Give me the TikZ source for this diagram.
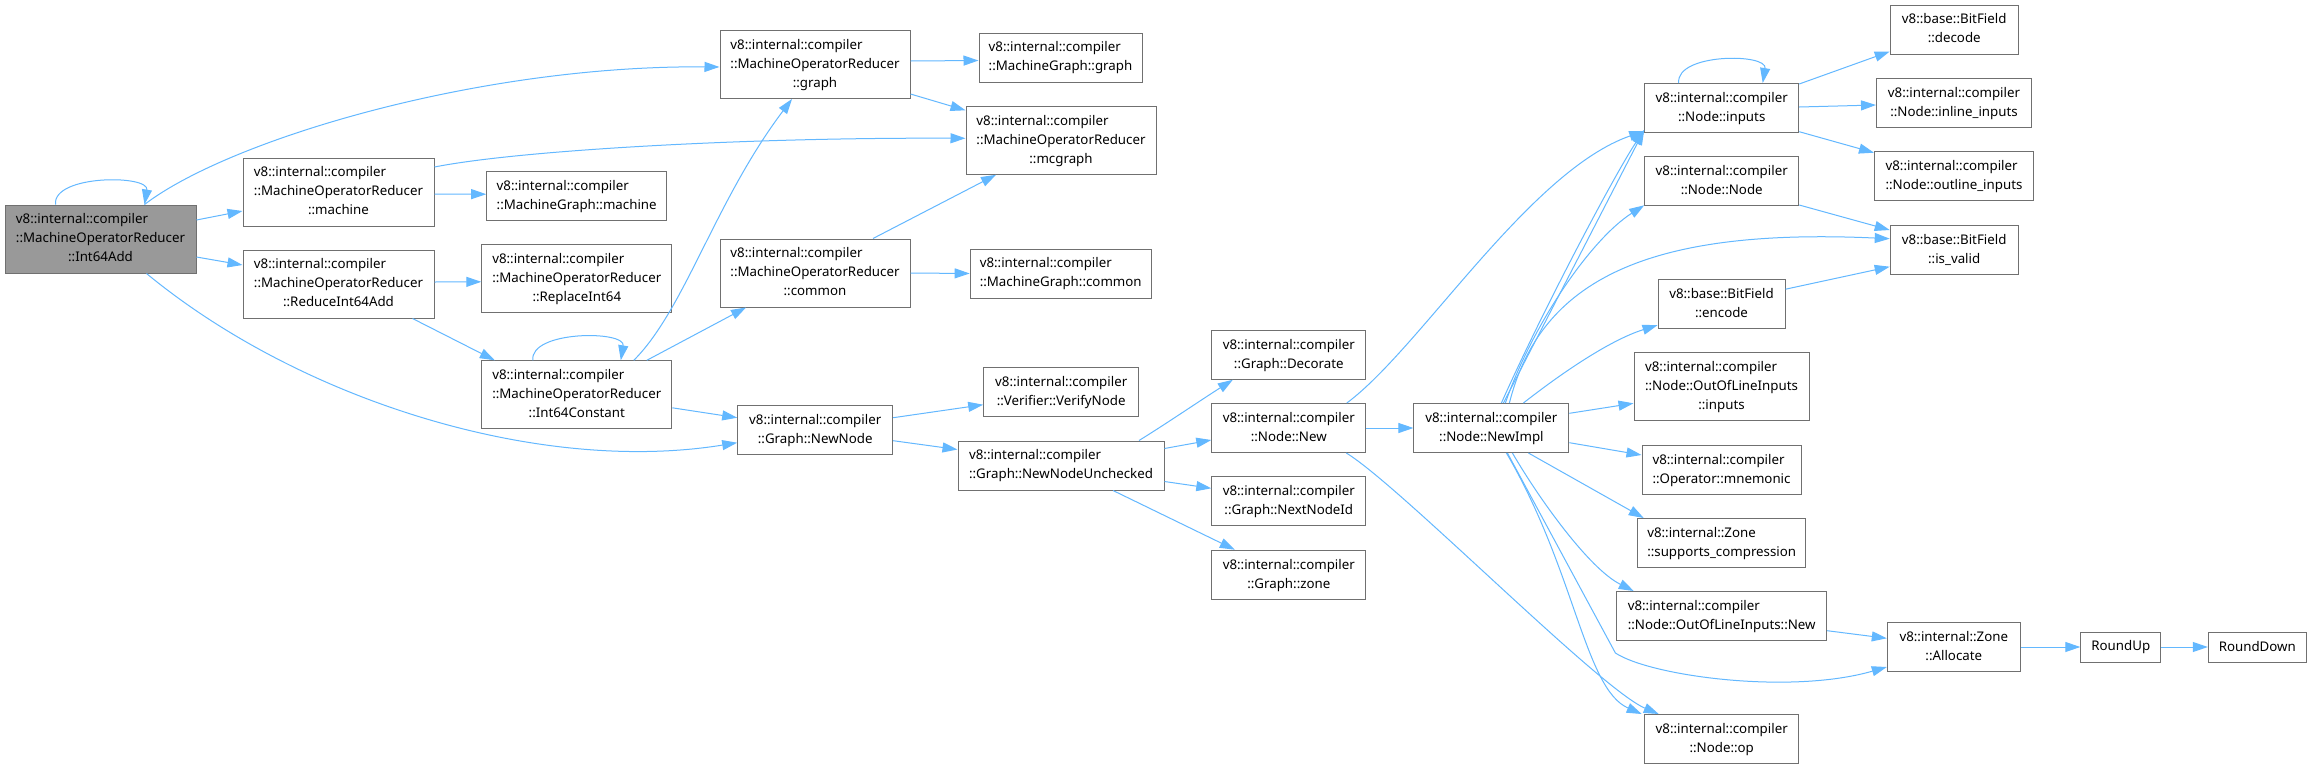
\documentclass[tikz,border=0pt]{standalone}
\usepackage{fontspec}
\setmainfont{Noto Sans}
\usetikzlibrary{arrows.meta}
\definecolor{edgeblue}{RGB}{99,184,255}
\definecolor{boxgray}{RGB}{112,112,112}
\definecolor{rootgray}{RGB}{153,153,153}
\newcommand{\fnlabel}[2]{\begin{tabular}{@{}l@{}}#1\\\multicolumn{1}{@{}c@{}}{#2}\end{tabular}}
\tikzset{
  fnbox/.style={draw=boxgray,line width=1pt,fill=white,inner sep=0pt,minimum height=49pt,font=\fontsize{13.3}{19}\selectfont},
  tall/.style={minimum height=68pt},
  root/.style={fnbox,tall,fill=rootgray},
  call/.style={draw=edgeblue,line width=1pt,-{Triangle[length=15pt,width=10pt]}}
}

\begin{document}
\begin{tikzpicture}[x=1pt,y=-1pt]
  \path[use as bounding box,fill=white] (0,0) rectangle (2311,769);
  \node[root,minimum width=191pt] (int64add) at (100.5,239) {\fnlabel{v8::internal::compiler\\::MachineOperatorReducer}{::Int64Add}};
  \node[fnbox,tall,minimum width=191pt] (machine) at (338.5,192) {\fnlabel{v8::internal::compiler\\::MachineOperatorReducer}{::machine}};
  \node[fnbox,tall,minimum width=191pt] (reduce) at (338.5,284) {\fnlabel{v8::internal::compiler\\::MachineOperatorReducer}{::ReduceInt64Add}};
  \node[fnbox,minimum width=180pt] (mgmachine) at (576.7,196.2) {\fnlabel{v8::internal::compiler}{::MachineGraph::machine}};
  \node[fnbox,tall,minimum width=190pt] (replace) at (576.8,278.8) {\fnlabel{v8::internal::compiler\\::MachineOperatorReducer}{::ReplaceInt64}};
  \node[fnbox,tall,minimum width=190pt] (int64const) at (576.8,394.8) {\fnlabel{v8::internal::compiler\\::MachineOperatorReducer}{::Int64Constant}};
  \node[fnbox,tall,minimum width=190pt] (morgraph) at (815,64.5) {\fnlabel{v8::internal::compiler\\::MachineOperatorReducer}{::graph}};
  \node[fnbox,tall,minimum width=190pt] (common) at (815,273) {\fnlabel{v8::internal::compiler\\::MachineOperatorReducer}{::common}};
  \node[fnbox,minimum width=155pt] (newnode) at (815.2,429.7) {\fnlabel{v8::internal::compiler}{::Graph::NewNode}};
  \node[fnbox,minimum width=163pt] (mggraph) at (1060.5,57.5) {\fnlabel{v8::internal::compiler}{::MachineGraph::graph}};
  \node[fnbox,tall,minimum width=190pt] (mcgraph) at (1061,140.3) {\fnlabel{v8::internal::compiler\\::MachineOperatorReducer}{::mcgraph}};
  \node[fnbox,minimum width=181pt] (mgcommon) at (1060.7,273.5) {\fnlabel{v8::internal::compiler}{::MachineGraph::common}};
  \node[fnbox,minimum width=155pt] (verify) at (1061.2,392.2) {\fnlabel{v8::internal::compiler}{::Verifier::VerifyNode}};
  \node[fnbox,minimum width=206pt] (unchecked) at (1061,465.5) {\fnlabel{v8::internal::compiler}{::Graph::NewNodeUnchecked}};
  \node[fnbox,minimum width=154pt] (decorate) at (1288.8,354.8) {\fnlabel{v8::internal::compiler}{::Graph::Decorate}};
  \node[fnbox,minimum width=154pt] (nodenew) at (1288.8,428) {\fnlabel{v8::internal::compiler}{::Node::New}};
  \node[fnbox,minimum width=154pt] (nextid) at (1288.8,501.3) {\fnlabel{v8::internal::compiler}{::Graph::NextNodeId}};
  \node[fnbox,minimum width=154pt] (gzone) at (1288.8,574.7) {\fnlabel{v8::internal::compiler}{::Graph::zone}};
  \node[fnbox,minimum width=155pt] (newimpl) at (1491.4,428) {\fnlabel{v8::internal::compiler}{::Node::NewImpl}};
  \node[fnbox,minimum width=154pt] (inputs) at (1721.7,108) {\fnlabel{v8::internal::compiler}{::Node::inputs}};
  \node[fnbox,minimum width=154pt] (nodenode) at (1721.7,181.3) {\fnlabel{v8::internal::compiler}{::Node::Node}};
  \node[fnbox,minimum width=127pt] (encode) at (1721.5,304.2) {\fnlabel{v8::base::BitField}{::encode}};
  \node[fnbox,tall,minimum width=175pt] (oolinputs) at (1721.5,386.7) {\fnlabel{v8::internal::compiler\\::Node::OutOfLineInputs}{::inputs}};
  \node[fnbox,minimum width=159pt] (mnemonic) at (1721.5,469.7) {\fnlabel{v8::internal::compiler}{::Operator::mnemonic}};
  \node[fnbox,minimum width=168pt] (suppcomp) at (1721.7,543) {\fnlabel{v8::internal::Zone}{::supports\_compression}};
  \node[fnbox,minimum width=210pt] (oolnew) at (1721.7,616) {\fnlabel{v8::internal::compiler}{::Node::OutOfLineInputs::New}};
  \node[fnbox,minimum width=154pt] (nodeop) at (1721.7,739) {\fnlabel{v8::internal::compiler}{::Node::op}};
  \node[fnbox,minimum width=128pt] (decode) at (1954.2,29.5) {\fnlabel{v8::base::BitField}{::decode}};
  \node[fnbox,minimum width=155pt] (inlineinp) at (1954,103) {\fnlabel{v8::internal::compiler}{::Node::inline\_inputs}};
  \node[fnbox,minimum width=159pt] (outlineinp) at (1954,176.3) {\fnlabel{v8::internal::compiler}{::Node::outline\_inputs}};
  \node[fnbox,minimum width=128pt] (isvalid) at (1954.2,249.7) {\fnlabel{v8::base::BitField}{::is\_valid}};
  \node[fnbox,minimum width=133pt] (allocate) at (1953.8,647) {\fnlabel{v8::internal::Zone}{::Allocate}};
  \node[fnbox,minimum width=80pt,minimum height=30pt] (roundup) at (2120.8,647) {RoundUp};
  \node[fnbox,minimum width=98pt,minimum height=30pt] (rounddown) at (2257.3,647) {RoundDown};

  \draw[call] ([xshift=-45pt]int64add.north) .. controls +(-3,-30) and +(5,-30) .. ([xshift=44pt]int64add.north);
  \draw[call] ([xshift=44pt]int64add.north) .. controls +(85,-65) and +(-240,-2) .. ([yshift=-2.5pt]morgraph.west);
  \draw[call] ([yshift=19pt]int64add.east) -- ([yshift=-19pt]machine.west);
  \draw[call] ([yshift=-18pt]int64add.east) -- ([yshift=19pt]reduce.west);
  \draw[call] ([xshift=46pt]int64add.south) .. controls +(154,127) and +(-198,32) .. ([yshift=-13pt]newnode.west);
  \draw[call] ([yshift=-2pt]machine.east) -- ([yshift=2pt]mgmachine.west);
  \draw[call] ([yshift=25pt]machine.east) .. controls +(86,-17) and +(-216,-1) .. ([yshift=2pt]mcgraph.west);
  \draw[call] ([yshift=2pt]reduce.east) -- ([yshift=-3pt]replace.west);
  \draw[call] ([xshift=74pt]reduce.south) -- ([xshift=-82pt]int64const.north);
  \draw[call] ([xshift=-44pt]int64const.north) .. controls +(-3,-30) and +(5,-30) .. ([xshift=44pt]int64const.north);
  \draw[call] ([xshift=57pt]int64const.north) .. controls +(51,-51) and +(-77,102) .. ([xshift=-23pt]morgraph.south);
  \draw[call] ([xshift=70pt]int64const.north) -- ([xshift=-69pt]common.south);
  \draw[call] ([yshift=-13pt]int64const.east) -- ([yshift=12pt]newnode.west);
  \draw[call] ([yshift=3.5pt]morgraph.east) -- ([yshift=-3pt]mggraph.west);
  \draw[call] ([yshift=-29.5pt]morgraph.east) -- ([yshift=30pt]mcgraph.west);
  \draw[call] ([xshift=58pt]common.north) -- ([xshift=-65pt]mcgraph.south);
  \draw[call] (common.east) -- (mgcommon.west);
  \draw[call] ([yshift=12pt]newnode.east) -- ([yshift=-12.5pt]verify.west);
  \draw[call] ([yshift=-11pt]newnode.east) -- ([yshift=16pt]unchecked.west);
  \draw[call] ([xshift=78pt]unchecked.north) .. controls +(26,-16) and +(-33,21) .. ([xshift=-56pt]decorate.south);
  \draw[call] ([yshift=17pt]unchecked.east) -- ([yshift=-12pt]nodenew.west);
  \draw[call] ([yshift=-16pt]unchecked.east) -- ([yshift=13pt]nextid.west);
  \draw[call] ([xshift=52pt]unchecked.south) -- ([xshift=-54pt]gzone.north);
  \draw[call] (nodenew.east) -- (newimpl.west);
  \draw[call] ([xshift=58pt]nodenew.north) .. controls +(73,-54) and +(-115,40) .. ([yshift=2pt]inputs.south west);
  \draw[call] ([xshift=57.5pt]nodenew.south) .. controls +(54,33) and +(-59,-25) .. ([xshift=-63pt]nodeop.north);
  \draw[call] ([xshift=12pt]newimpl.north) -- ([yshift=3pt]inputs.south west);
  \draw[call] ([xshift=10pt]newimpl.north) .. controls +(40,-90) and +(-30,45) .. ([yshift=3pt]inputs.south west);
  \draw[call] ([xshift=14pt]newimpl.north) .. controls +(25,-74) and +(-55,35) .. ([yshift=1pt]nodenode.south west);
  \draw[call] ([xshift=18pt]newimpl.north) .. controls +(31,-124) and +(-240,-11) .. ([yshift=11pt]isvalid.west);
  \draw[call] ([xshift=32pt]newimpl.north) .. controls +(37,-29) and +(-48,15) .. ([yshift=-21pt]encode.west);
  \draw[call] ([yshift=14.7pt]newimpl.east) -- ([yshift=-16.6pt]oolinputs.west);
  \draw[call] ([yshift=-14.7pt]newimpl.east) -- ([yshift=14.7pt]mnemonic.west);
  \draw[call] ([xshift=37pt]newimpl.south) -- ([xshift=-78pt]suppcomp.north);
  \draw[call] ([xshift=21pt]newimpl.south) .. controls +(28,48) and +(-44,-22) .. ([xshift=-88pt]oolnew.north);
  \draw[call] ([xshift=15pt]newimpl.south) .. controls +(69,118) and +(-57,-25) .. ([xshift=-80pt]nodeop.north);
  \draw[call] ([xshift=16pt]newimpl.south) -- +(108,200) .. controls +(35,23) and +(-97,28) .. ([yshift=-20pt]allocate.west);
  \draw[call] ([xshift=-43pt]inputs.north) .. controls +(-3,-30) and +(5,-30) .. ([xshift=41pt]inputs.north);
  \draw[call] ([yshift=24pt]inputs.east) -- ([yshift=-22pt]decode.west);
  \draw[call] ([yshift=1pt]inputs.east) -- ([yshift=-2pt]inlineinp.west);
  \draw[call] ([yshift=-23.7pt]inputs.east) -- ([yshift=23.6pt]outlineinp.west);
  \draw[call] ([yshift=-23.7pt]nodenode.east) -- ([yshift=19.7pt]isvalid.west);
  \draw[call] ([yshift=15pt]encode.east) -- ([yshift=-17pt]isvalid.west);
  \draw[call] ([yshift=-14.7pt]oolnew.east) -- ([yshift=8.7pt]allocate.west);
  \draw[call] (allocate.east) -- (roundup.west);
  \draw[call] (roundup.east) -- (rounddown.west);
\end{tikzpicture}
\end{document}
